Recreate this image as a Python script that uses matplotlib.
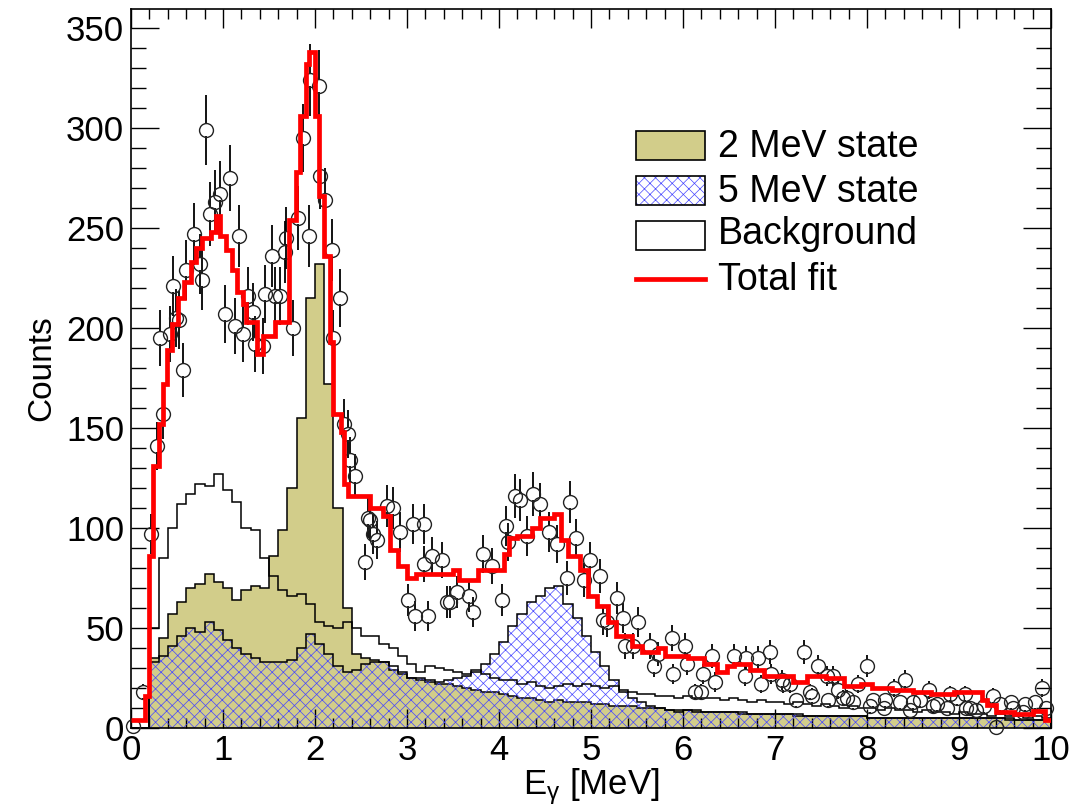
import numpy as np
import matplotlib
matplotlib.use("Agg")
import matplotlib.pyplot as plt
from matplotlib.patches import Rectangle
from matplotlib.lines import Line2D
from matplotlib.ticker import MultipleLocator

plt.rcParams['font.family'] = 'Liberation Sans'
plt.rcParams['mathtext.fontset'] = 'custom'
plt.rcParams['mathtext.rm'] = 'Liberation Sans'
plt.rcParams['mathtext.it'] = 'Liberation Sans:italic'
plt.rcParams['hatch.linewidth'] = 0.5

# fit components, 0.1 MeV bins
comp_edges = np.linspace(0, 10, 101)

background = [
    0, 0, 50, 85, 100, 112, 117, 122, 121, 127,
    119, 113, 100, 99, 85, 76, 69, 66, 67, 62,
    53, 51, 50, 53, 50, 46, 46, 42, 40, 36,
    32, 28, 31, 30, 29, 28, 27, 29, 27, 25,
    24, 24, 22, 23, 21, 20, 21, 22, 21, 22,
    21, 20, 21, 19, 18, 17, 17, 16, 16, 15,
    16, 15, 15, 15, 14, 15, 14, 13, 14, 13,
    13, 12, 13, 12, 11, 12, 11, 10, 11, 10,
    10, 9, 10, 9, 9, 8, 9, 8, 8, 7,
    8, 7, 7, 6, 7, 6, 6, 5, 6, 5,
]

state_2mev = [
    0, 0, 35, 45, 57, 63, 70, 72, 77, 73,
    70, 64, 69, 71, 70, 86, 99, 120, 155, 215,
    232, 172, 110, 60, 37, 35, 34, 33, 29, 27,
    25, 24, 23, 22, 22, 21, 20, 19, 18, 18,
    17, 16, 15, 15, 14, 13, 14, 13, 13, 13,
    12, 12, 11, 11, 11, 10, 10, 10, 9, 9,
    9, 9, 8, 8, 8, 8, 7, 7, 7, 7,
    7, 7, 6, 6, 6, 6, 6, 6, 6, 6,
    5, 5, 5, 5, 5, 5, 5, 5, 5, 5,
    5, 5, 5, 5, 5, 5, 4, 4, 4, 4,
]

state_5mev = [
    0, 0, 33, 36, 41, 46, 50, 48, 53, 49,
    44, 40, 37, 35, 33, 33, 33, 34, 40, 47,
    42, 37, 31, 28, 29, 32, 33, 33, 31, 28,
    25, 25, 24, 23, 24, 25, 26, 28, 32, 37,
    43, 51, 57, 63, 66, 70, 71, 62, 55, 46,
    38, 31, 24, 18, 15, 13, 11, 10, 9, 8,
    9, 8, 8, 8, 8, 8, 8, 7, 7, 7,
    7, 7, 7, 6, 6, 6, 6, 6, 6, 6,
    5, 5, 5, 5, 5, 5, 5, 5, 5, 5,
    5, 5, 5, 5, 5, 4, 4, 4, 4, 4,
]

# total fit, variable bins
fit_edges = [
    0.00, 0.15, 0.20, 0.24, 0.30, 0.35, 0.39, 0.45, 0.51, 0.58,
    0.65, 0.71, 0.77, 0.87, 0.92, 0.97, 1.03, 1.10, 1.15, 1.22,
    1.25, 1.37, 1.43, 1.56, 1.72, 1.79, 1.84, 1.90, 1.93, 2.00,
    2.04, 2.10, 2.16, 2.20, 2.28, 2.32, 2.36, 2.60, 2.74, 2.81,
    2.90, 3.00, 3.10, 3.50, 3.56, 3.77, 4.05, 4.11, 4.20, 4.36,
    4.45, 4.60, 4.67, 4.75, 4.88, 4.97, 5.06, 5.18, 5.27, 5.45,
    5.55, 5.73, 5.80, 6.05, 6.23, 6.37, 6.48, 6.55, 6.73, 6.88,
    7.20, 7.35, 7.55, 7.75, 7.93, 8.05, 8.27, 8.50, 8.70, 8.95,
    9.25, 9.30, 9.40, 9.60, 9.80, 9.93, 10.00,
]
fit_counts = [
    4, 16, 86, 131, 152, 172, 189, 202, 215, 223,
    233, 240, 245, 248, 256, 246, 239, 229, 218, 212,
    203, 187, 196, 203, 254, 278, 306, 332, 338, 306,
    266, 236, 193, 157, 148, 122, 116, 110, 106, 89,
    81, 75, 77, 79, 74, 79, 87, 95, 96, 100,
    105, 107, 94, 86, 79, 66, 61, 53, 46, 41,
    38, 40, 36, 35, 32, 28, 31, 32, 29, 26,
    23, 26, 25, 21, 22, 20, 19, 18, 17, 18,
    14, 11.5, 8, 7, 8.5, 4,
]

# measured spectrum
data_e = [
    0.02, 0.13, 0.22, 0.28, 0.315, 0.35, 0.42, 0.46, 0.49, 0.52,
    0.57, 0.60, 0.68, 0.75, 0.77, 0.82, 0.86, 0.91, 0.97, 1.02,
    1.08, 1.13, 1.17, 1.22, 1.27, 1.33, 1.35, 1.44, 1.46, 1.53,
    1.57, 1.62, 1.67, 1.69, 1.76, 1.82, 1.87, 1.93, 1.95, 2.04,
    2.05, 2.11, 2.18, 2.20, 2.27, 2.31, 2.36, 2.38, 2.43, 2.54,
    2.58, 2.60, 2.63, 2.67, 2.78, 2.85, 2.92, 3.01, 3.07, 3.09,
    3.18, 3.19, 3.23, 3.27, 3.38, 3.43, 3.47, 3.54, 3.67, 3.72,
    3.83, 3.92, 4.03, 4.08, 4.10, 4.17, 4.23, 4.30, 4.37, 4.45,
    4.54, 4.63, 4.74, 4.77, 4.84, 4.92, 4.99, 5.10, 5.13, 5.17,
    5.28, 5.35, 5.37, 5.46, 5.51, 5.64, 5.68, 5.73, 5.88, 5.89,
    6.02, 6.04, 6.13, 6.20, 6.22, 6.31, 6.35, 6.55, 6.67, 6.69,
    6.82, 6.85, 6.95, 6.96, 7.08, 7.09, 7.16, 7.23, 7.31, 7.38,
    7.40, 7.47, 7.56, 7.58, 7.63, 7.69, 7.74, 7.78, 7.85, 7.90,
    8.00, 8.03, 8.07, 8.18, 8.20, 8.29, 8.36, 8.41, 8.47, 8.50,
    8.58, 8.67, 8.72, 8.76, 8.87, 8.90, 8.98, 9.06, 9.08, 9.12,
    9.19, 9.27, 9.37, 9.40, 9.45, 9.57, 9.59, 9.70, 9.72, 9.83,
    9.90, 9.95,
]
data_n = [
    1, 18, 97, 141, 195, 157, 197, 221, 205, 204,
    179, 229, 247, 232, 224, 299, 257, 263, 267, 207,
    275, 201, 246, 197, 216, 208, 192, 191, 217, 236,
    216, 216, 238, 245, 200, 255, 295, 246, 324, 321,
    276, 264, 239, 195, 215, 152, 147, 134, 126, 83,
    105, 104, 97, 94, 111, 110, 98, 64, 102, 56,
    82, 102, 56, 86, 84, 63, 63, 68, 66, 58,
    87, 81, 64, 101, 93, 116, 114, 96, 117, 112,
    98, 92, 75, 113, 95, 74, 84, 76, 54, 53,
    65, 55, 41, 41, 53, 41, 31, 37, 45, 27,
    41, 32, 18, 18, 27, 36, 23, 36, 26, 35,
    35, 22, 38, 27, 24, 22, 22, 14, 38, 18,
    16, 31, 26, 14, 26, 19, 15, 15, 13, 22,
    31, 11, 14, 10, 14, 20, 13, 24, 9, 13,
    14, 19, 11, 12, 10, 17, 15, 17, 10, 10,
    9, 11, 16, 0.5, 12, 13, 10, 8, 12, 13,
    20, 10,
]

OLIVE = '#d2cd8a'
HATCH_BLUE = '#4646ff'
FIT_RED = '#ff0000'

fig = plt.figure(figsize=(10.86, 8.11), dpi=100)
ax = fig.add_axes([131 / 1086, 83 / 811, 920 / 1086, 719 / 811])

# 2 MeV state: filled olive
ax.stairs(state_2mev, comp_edges, fill=True, color=OLIVE, zorder=1)
ax.stairs(state_2mev, comp_edges, color='k', lw=1.1, zorder=2)

# 5 MeV state: transparent blue cross-hatch
ax.stairs(state_5mev, comp_edges, fill=True, facecolor='none',
          edgecolor=HATCH_BLUE, hatch='xxx', lw=0, zorder=2)
ax.stairs(state_5mev, comp_edges, color='k', lw=1.1, zorder=3)

# background: outline only
ax.stairs(background, comp_edges, color='k', lw=1.1, zorder=3)

# data points with sqrt(N) errors, bars stop at the marker edge
e = np.array(data_e)
n = np.array(data_n)
err = np.sqrt(n)
gap = 3.0
has_bar = err > gap
ax.vlines(e[has_bar], n[has_bar] - err[has_bar], n[has_bar] - gap,
          color='k', lw=1.3, zorder=4)
ax.vlines(e[has_bar], n[has_bar] + gap, n[has_bar] + err[has_bar],
          color='k', lw=1.3, zorder=4)
ax.plot(e, n, 'o', ms=10, mfc='none', mec='#222222', mew=1.0,
        zorder=4, clip_on=False)

ax.stairs(fit_counts, fit_edges, color=FIT_RED, lw=3.4, baseline=None, zorder=5)

ax.set_xlim(0, 10)
ax.set_ylim(0, 359.5)
ax.xaxis.set_major_locator(MultipleLocator(1))
ax.xaxis.set_minor_locator(MultipleLocator(0.2))
ax.yaxis.set_major_locator(MultipleLocator(50))
ax.yaxis.set_minor_locator(MultipleLocator(10))
ax.tick_params(which='both', direction='in', top=True, right=True,
               width=1.0, labelsize=25)
ax.tick_params(axis='x', which='major', length=14, pad=4)
ax.tick_params(axis='x', which='minor', length=7)
ax.tick_params(axis='y', which='major', length=20, pad=5)
ax.tick_params(axis='y', which='minor', length=11)
for sp in ax.spines.values():
    sp.set_linewidth(1.2)

ax.set_xlabel(r'E$_{\mathrm{\gamma}}$ [MeV]', fontsize=25)
ax.xaxis.set_label_coords(0.5, -0.053)
ax.set_ylabel('Counts', fontsize=24)
ax.yaxis.set_label_coords(-0.08, 0.5)


# legend drawn by hand, positions in figure pixels
def fx(px):
    return px / 1086


def fy(py):
    return 1 - py / 811


box_x, box_w, box_h = 636, 69, 29
fig.add_artist(Rectangle((fx(box_x), fy(160)), box_w / 1086, box_h / 811,
                         transform=fig.transFigure, fc=OLIVE, ec='k', lw=1.2))
fig.add_artist(Rectangle((fx(box_x), fy(205)), box_w / 1086, box_h / 811,
                         transform=fig.transFigure, fc='white',
                         ec=HATCH_BLUE, hatch='xxx', lw=0))
fig.add_artist(Rectangle((fx(box_x), fy(205)), box_w / 1086, box_h / 811,
                         transform=fig.transFigure, fc='none', ec='k', lw=1.2))
fig.add_artist(Rectangle((fx(box_x), fy(250)), box_w / 1086, box_h / 811,
                         transform=fig.transFigure, fc='white', ec='k', lw=1.2))
fig.add_artist(Line2D([fx(box_x), fx(box_x + box_w)], [fy(279), fy(279)],
                      transform=fig.transFigure, color=FIT_RED, lw=3.4))

legend_labels = ['2 MeV state', '5 MeV state', 'Background', 'Total fit']
legend_base = [157, 202, 244, 290]
for lab, yb in zip(legend_labels, legend_base):
    fig.text(fx(718), fy(yb), lab, fontsize=27, va='baseline', ha='left')

fig.savefig('out.png', dpi=100)
